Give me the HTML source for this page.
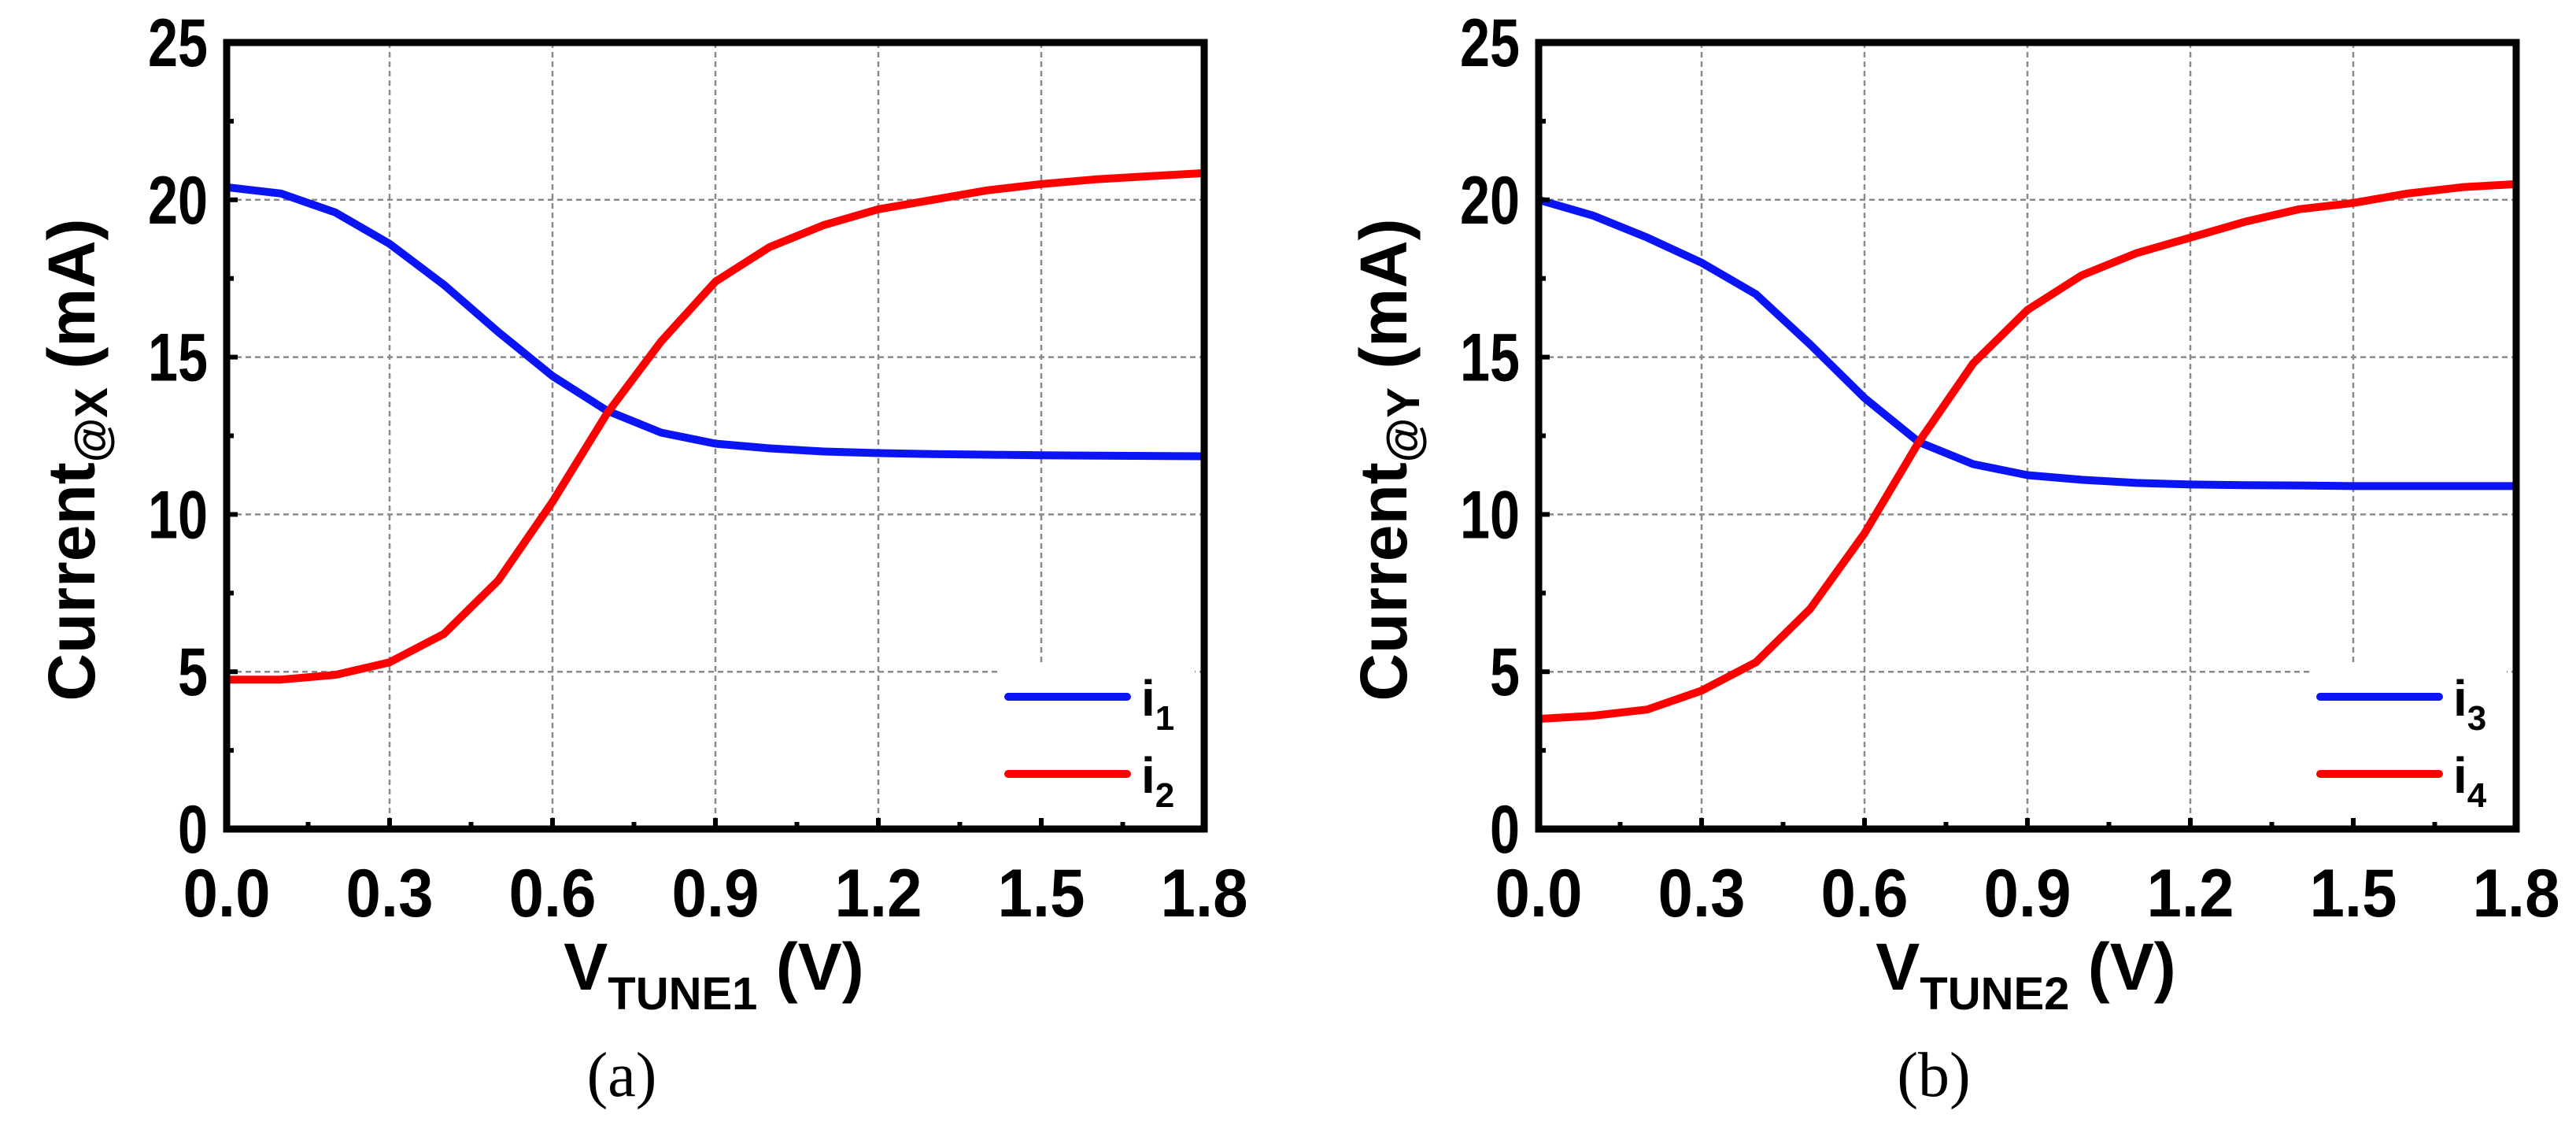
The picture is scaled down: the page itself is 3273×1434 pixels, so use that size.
<!DOCTYPE html>
<html><head><meta charset="utf-8"><style>
html,body{margin:0;padding:0;background:#fff;}
svg{display:block;}
text{font-family:"Liberation Sans",Arial,sans-serif;font-weight:bold;fill:#000;}
.cap{font-family:"Liberation Serif","Times New Roman",serif;font-weight:normal;}
</style></head><body>
<svg id="fig" width="3273" height="1434" viewBox="0 0 3273 1434" xmlns="http://www.w3.org/2000/svg"></svg>
<script>
const xValues = [0,0.1,0.2,0.3,0.4,0.5,0.6,0.7,0.8,0.9,1.0,1.1,1.2,1.3,1.4,1.5,1.6,1.7,1.8];
const i1 = [20.4,20.2,19.6,18.6,17.3,15.8,14.4,13.3,12.6,12.25,12.1,12.0,11.95,11.92,11.9,11.88,11.87,11.86,11.85];
const i2 = [4.75,4.75,4.9,5.3,6.2,7.9,10.4,13.2,15.5,17.4,18.5,19.2,19.7,20.0,20.3,20.5,20.65,20.75,20.85];
const i3 = [20.0,19.5,18.8,18.0,17.0,15.4,13.7,12.3,11.6,11.25,11.1,11.0,10.95,10.93,10.92,10.9,10.9,10.9,10.9];
const i4 = [3.5,3.6,3.8,4.4,5.3,7.0,9.4,12.3,14.8,16.5,17.6,18.3,18.8,19.3,19.7,19.9,20.2,20.4,20.5];
const xTicks = [0,0.3,0.6,0.9,1.2,1.5,1.8];
const xTickLabels = ["0.0","0.3","0.6","0.9","1.2","1.5","1.8"];
const yTicks = [0,5,10,15,20,25];
const yTickLabels = ["0","5","10","15","20","25"];

const NS = "http://www.w3.org/2000/svg";
const svg = document.getElementById('fig');
function mk(tag, attrs, parent){
  const e = document.createElementNS(NS, tag);
  for (const k in attrs) e.setAttribute(k, attrs[k]);
  (parent||svg).appendChild(e);
  return e;
}

function panel(off, seriesA, seriesB, nameA, nameB, subA, subB, ySub, xSub, cap, pid){
  const L = 288 + off, R = 1530 + off, T = 54, B = 1053;
  const sx = v => L + (v - 0) / 1.8 * (R - L);
  const sy = v => B - v / 25 * (B - T);
  const g = mk('g', {});
  
  
  xTicks.forEach(t => {
    if (t === 0 || t === 1.8) return;
    const l = mk('line', {x1: sx(t), x2: sx(t), y1: T, y2: B, stroke: '#8a8a8a', 'stroke-width': 2.5, 'stroke-dasharray': '7 5'}, g);
    
    
  });
  yTicks.forEach(t => {
    if (t === 0 || t === 25) return;
    const l = mk('line', {x1: L, x2: R, y1: sy(t), y2: sy(t), stroke: '#8a8a8a', 'stroke-width': 2.5, 'stroke-dasharray': '7 5'}, g);
    
    
  });
  const lb = mk('rect', {x: 1268 + off, y: 842, width: 250, height: 205, fill: '#fff'}, g);
  
  
  [[seriesA, '#0a14f5', nameA], [seriesB, '#ff0000', nameB]].forEach(([s, c, n]) => {
    const pts = s.map((v, i) => sx(xValues[i]).toFixed(1) + ',' + sy(v).toFixed(1)).join(' ');
    const p = mk('polyline', {points: pts, fill: 'none', stroke: c, 'stroke-width': 10, 'stroke-linejoin': 'round'}, g);
    
    
  });
  for (let k = 0; k <= 12; k++) {
    const v = k * 0.15, major = k % 2 === 0;
    const tk = mk('line', {x1: sx(v), x2: sx(v), y1: B, y2: B - (major ? 14 : 9), stroke: '#000', 'stroke-width': 6}, g);
    
    
  }
  for (let k = 0; k <= 10; k++) {
    const v = k * 2.5, major = k % 2 === 0;
    const tk = mk('line', {x1: L, x2: L + (major ? 14 : 9), y1: sy(v), y2: sy(v), stroke: '#000', 'stroke-width': 6}, g);
    
    
  }
  const fr = mk('rect', {x: L, y: T, width: R - L, height: B - T, fill: 'none', stroke: '#000', 'stroke-width': 9}, g);
  
  
  xTicks.forEach((t, i) => {
    const tx = mk('text', {x: sx(t), y: 1164, 'text-anchor': 'middle', 'font-size': 86, 'textLength': 111, 'lengthAdjust': 'spacingAndGlyphs'}, g);
    tx.textContent = xTickLabels[i];
    
    
  });
  yTicks.forEach((t, i) => {
    const lbl = yTickLabels[i];
    const tx = mk('text', {x: L - 24, y: sy(t) + 30, 'text-anchor': 'end', 'font-size': 86, 'textLength': lbl.length * 38, 'lengthAdjust': 'spacingAndGlyphs'}, g);
    tx.textContent = lbl;
    
    
  });
  [[nameA, subA, '#0a14f5', 885], [nameB, subB, '#ff0000', 983]].forEach(([n, sb, c, y]) => {
    const ln = mk('line', {x1: 1281 + off, x2: 1432 + off, y1: y, y2: y, stroke: c, 'stroke-width': 10, 'stroke-linecap': 'round'}, g);
    
    
    const tx = mk('text', {x: 1450 + off, y: y + 24, 'font-size': 64}, g);
    
    
    tx.innerHTML = 'i<tspan font-size="44" dy="18">' + sb + '</tspan>';
  });
  const yt = mk('text', {x: 0, y: 0, 'text-anchor': 'middle', 'font-size': 84, transform: 'translate(' + (120 + off) + ',584) rotate(-90)'}, g);
  
  
  yt.innerHTML = 'Current<tspan font-size="58" dy="16">' + ySub + '</tspan><tspan dy="-16"> (mA)</tspan>';
  const xt = mk('text', {x: 907 + off, y: 1257, 'text-anchor': 'middle', 'font-size': 84}, g);
  
  
  xt.innerHTML = 'V<tspan font-size="58" dy="25">' + xSub + '</tspan><tspan dy="-25"> (V)</tspan>';
  const cp = mk('text', {x: 790 + off, y: 1392, 'text-anchor': 'middle', 'font-size': 80, class: 'cap'}, g);
  
  
  cp.textContent = cap;
}
panel(0, i1, i2, 'i1', 'i2', '1', '2', '@X', 'TUNE1', '(a)', 'panel-a');
panel(1667, i3, i4, 'i3', 'i4', '3', '4', '@Y', 'TUNE2', '(b)', 'panel-b');
</script>
</body></html>
